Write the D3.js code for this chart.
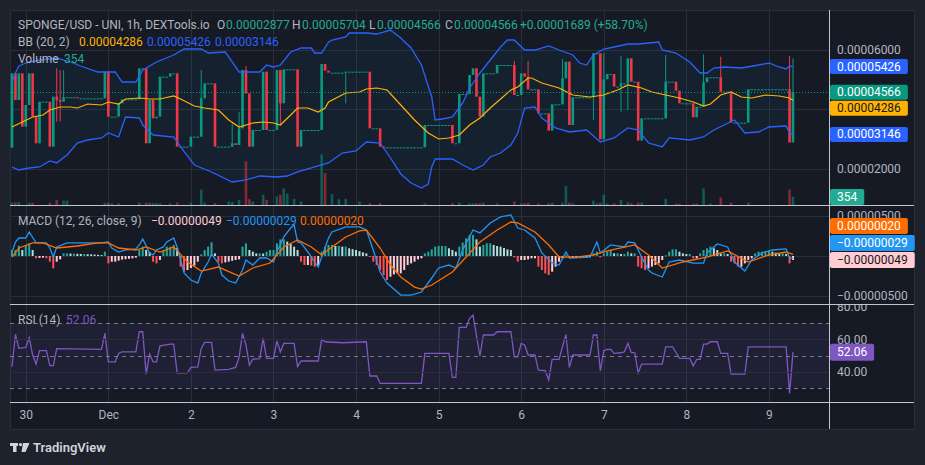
<!DOCTYPE html>
<html>
<head>
<meta charset="utf-8">
<script src="https://cdn.jsdelivr.net/npm/d3@7"></script>
<style>
  body { margin: 0; background: #1e222d; }
  svg { display: block; font-family: Roboto, "Noto Sans", sans-serif; }
</style>
</head>
<body>
<script>
// ---- data, prices in units of 1e-8 USD, one candle per hour ----
var startTime = new Date(2023, 10, 29, 20); // first candle
var firstOpen = 2700;
var closes = [
  5199, 4300, 5199, 3407, 4135, 5199, 3743, 2847, 4247, 4247,
  4247, 2735, 4415, 4303, 4247, 4393, 4393, 4393, 4393, 4359,
  4359, 4359, 4359, 4359, 4359, 4359, 4359, 5255, 3743, 3743,
  3743, 4191, 4325, 4325, 4325, 4325, 4325, 5367, 5367, 2847,
  4303, 3687, 3743, 5087, 5087, 5087, 5199, 5199, 2735, 2735,
  2735, 2735, 3071, 3071, 3071, 4359, 4863, 4863, 4863, 2735,
  2735, 2735, 2735, 2735, 2847, 2791, 3351, 5311, 4527, 2735,
  3295, 3295, 3295, 5255, 3295, 3295, 3295, 5311, 4191, 5333,
  5333, 5333, 5333, 2735, 3295, 3295, 3295, 3295, 3295, 3295,
  5513, 5289, 5221, 5221, 5221, 5221, 5221, 5255, 5255, 5255,
  5255, 5255, 5255, 5255, 3351, 3351, 3351, 2735, 2711, 2711,
  2711, 2711, 2711, 2711, 2711, 2711, 2711, 2711, 2711, 2711,
  3463, 3463, 3463, 3463, 3463, 3463, 3463, 3463, 2847, 2847,
  4505, 4505, 4505, 5143, 5367, 4415, 3743, 5199, 5199, 5199,
  5199, 5479, 5479, 5479, 5479, 5479, 4471, 4471, 5199, 5087,
  4661, 4661, 4661, 3855, 3855, 3855, 3273, 4157, 4157, 4157,
  5031, 5591, 3463, 4393, 4393, 4393, 4393, 4393, 4393, 5871,
  5871, 2981, 4997, 5177, 5177, 4751, 4751, 4863, 4863, 5703,
  4919, 4919, 2937, 3687, 3687, 3687, 3687, 3687, 3687, 3687,
  4919, 4919, 4919, 4617, 4191, 4191, 4191, 4191, 3721, 4079,
  4079, 4897, 5065, 5065, 5065, 5065, 4583, 4583, 4583, 3541,
  3541, 3541, 3541, 3541, 4661, 4661, 4661, 4661, 4661, 4661,
  4661, 4661, 4661, 4661, 4661, 4661, 2877, 4566
];
// [hour, high, low] for candles with visible wicks
var wicks = [
  [13, 5367, 3575], [14, 5311, 3575], [15, 5311, 4247], [55, 5311, 3071],
  [64, 3520, 2735], [66, 3900, 2791], [68, 5445, 4527], [78, 5311, 3463],
  [97, 5255, 4191], [146, 5613, 4471], [150, 5613, 4661], [160, 5681, 4157],
  [169, 5871, 3631], [172, 5871, 2981], [177, 5781, 3911], [179, 5703, 3967],
  [190, 5815, 3687], [201, 5837, 4079], [206, 5759, 4583], [226, 5781, 2877],
  [227, 5704, 2877]
];
// [hour, volume]
var volumes = [
  [0, 100], [1, 120], [2, 130], [5, 100], [6, 100], [11, 100], [13, 220], [15, 190],
  [16, 190], [27, 100], [28, 100], [29, 70], [31, 70], [37, 100], [39, 100], [40, 100],
  [41, 80], [42, 80], [43, 70], [46, 70], [48, 100], [52, 100], [55, 660], [56, 100],
  [59, 80], [63, 150], [64, 130], [66, 220], [68, 1870], [69, 250], [70, 150], [73, 440],
  [74, 220], [77, 370], [78, 440], [79, 710], [80, 490], [82, 265], [84, 150], [90, 2170],
  [91, 1370], [93, 470], [95, 250], [97, 265], [101, 150], [104, 80], [107, 80], [120, 70],
  [128, 70], [130, 100], [133, 70], [134, 70], [135, 70], [136, 70], [137, 100], [141, 70],
  [146, 150], [148, 70], [149, 70], [150, 100], [153, 70], [156, 70], [157, 100], [160, 100],
  [161, 810], [162, 100], [163, 70], [169, 190], [170, 70], [171, 100], [172, 440], [173, 70],
  [175, 70], [177, 220], [179, 120], [180, 70], [182, 100], [183, 100], [190, 265], [193, 50],
  [194, 50], [198, 50], [199, 70], [201, 710], [203, 70], [206, 325], [209, 100], [214, 100],
  [226, 660], [227, 354]
];

// Bollinger Bands (20, 2): [hour, price]
var bbUpper = [
  [0, 4908], [1, 5210], [2, 5445], [4, 5546], [8, 5647], [13, 5714], [17, 5580], [20, 5445],
  [25, 5244], [30, 5244], [32, 4908], [36, 4908], [38, 5311], [42, 5580], [47, 5815], [50, 6017],
  [55, 6017], [57, 5882], [62, 5916], [66, 5244], [72, 5244], [74, 5479], [76, 5412], [78, 5479],
  [81, 5916], [84, 6050], [87, 6050], [88, 5882], [90, 5882], [92, 6252], [93, 6319], [97, 6420],
  [98, 6555], [103, 6555], [106, 6521], [110, 6655], [113, 6387], [116, 6050], [119, 5479],
  [122, 4404], [123, 3630], [125, 3664], [128, 3731], [131, 4202], [133, 4706], [136, 5210],
  [139, 5647], [142, 6084], [144, 6319], [146, 6319], [149, 5983], [152, 5983], [156, 6118],
  [159, 5983], [163, 5815], [165, 5546], [167, 5479], [169, 5815], [172, 6017], [175, 6084],
  [179, 6185], [182, 6185], [188, 6252], [189, 5983], [193, 5882], [197, 5580], [200, 5210],
  [202, 5210], [204, 5378], [207, 5412], [212, 5378], [217, 5479], [220, 5546], [223, 5412],
  [225, 5345], [226, 5445], [227, 5426]
];
var bbBasis = [
  [0, 3395], [3, 3563], [6, 3731], [9, 3798], [11, 3967], [14, 4067], [17, 4067], [19, 4034],
  [22, 4168], [26, 4135], [28, 4235], [31, 4168], [33, 4336], [37, 4370], [40, 4336], [43, 4336],
  [47, 4437], [49, 4336], [53, 4101], [56, 4034], [60, 3967], [63, 3630], [66, 3395], [70, 3530],
  [73, 3563], [76, 3530], [78, 3462], [81, 3798], [83, 4034], [86, 4034], [89, 3899], [91, 4034],
  [92, 4235], [97, 4538], [101, 4572], [103, 4672], [106, 4706], [109, 4639], [113, 4135],
  [117, 3630], [121, 3194], [124, 2992], [127, 3026], [130, 3126], [133, 3462], [136, 3698],
  [139, 4034], [142, 4336], [145, 4639], [147, 4740], [150, 5042], [151, 5042], [154, 4874],
  [159, 4706], [163, 4471], [168, 4404], [172, 4471], [176, 4639], [179, 4807], [183, 4706],
  [186, 4572], [190, 4471], [194, 4370], [198, 4235], [201, 4101], [203, 4168], [206, 4471],
  [209, 4572], [212, 4404], [215, 4370], [219, 4471], [223, 4437], [226, 4370], [227, 4286]
];
var bbLower = [
  [0, 2051], [2, 1950], [5, 2017], [8, 2051], [11, 2253], [13, 2185], [16, 2454], [19, 2857],
  [22, 2958], [26, 3026], [28, 3194], [31, 3059], [33, 3731], [37, 3698], [38, 3462], [41, 3126],
  [47, 3059], [49, 2723], [53, 2118], [58, 1883], [64, 1547], [68, 1614], [72, 1748], [77, 1715],
  [80, 1748], [83, 1883], [88, 2051], [92, 2185], [96, 2521], [100, 2589], [103, 2891], [107, 2857],
  [110, 2353], [113, 1816], [116, 1513], [119, 1345], [121, 1480], [122, 2051], [123, 2320],
  [128, 2320], [131, 2118], [134, 1950], [137, 2118], [139, 2387], [142, 2521], [145, 2790],
  [147, 3194], [149, 4034], [152, 4067], [154, 3698], [158, 3362], [162, 3227], [167, 3294],
  [171, 2891], [175, 3026], [179, 3362], [182, 3294], [185, 2857], [189, 2723], [191, 3026],
  [197, 2958], [201, 3059], [204, 3294], [207, 3462], [210, 3630], [213, 3194], [217, 3227],
  [220, 3395], [225, 3429], [226, 3194], [227, 3146]
];

// MACD (12, 26, close, 9), units of 1e-8: [hour, value]
var macdLine = [
  [0, 50], [1, 175], [2, 225], [4, 225], [5, 300], [7, 163], [10, 163], [11, 100], [12, -13],
  [13, 113], [16, 163], [26, 163], [28, 175], [29, 100], [31, 50], [33, 75], [36, 88], [37, 138],
  [38, 213], [40, 38], [41, 13], [42, 75], [44, 113], [45, 175], [47, 225], [48, 113], [49, -50],
  [50, -213], [52, -300], [54, -338], [55, -213], [57, -75], [58, 25], [60, -88], [61, -238],
  [63, -313], [65, -338], [67, -175], [68, -50], [70, -113], [72, -25], [74, -25], [76, -75],
  [77, 50], [79, 238], [81, 350], [82, 388], [83, 175], [84, 163], [86, 50], [88, -75], [89, -138],
  [90, -13], [92, 225], [93, 300], [97, 363], [101, 363], [103, 325], [105, 75], [107, -200],
  [109, -338], [113, -488], [116, -488], [119, -450], [122, -275], [124, -150], [127, -113],
  [129, -150], [131, 75], [134, 325], [136, 288], [139, 413], [142, 488], [145, 513], [147, 350],
  [149, 325], [152, 225], [154, 38], [157, -88], [159, -113], [161, 50], [162, -25], [168, -13],
  [170, 175], [171, 38], [174, 138], [178, 113], [179, 175], [181, 163], [183, -13], [185, -175],
  [186, -213], [189, -263], [191, -75], [194, -50], [198, -88], [201, -88], [202, 38], [205, 150],
  [208, 113], [210, -75], [213, -188], [215, -50], [218, 38], [221, 75], [225, 88], [226, -25],
  [227, -29]
];
var signalLine = [
  [0, -13], [2, 100], [6, 163], [9, 163], [13, 100], [19, 125], [25, 163], [28, 163], [31, 100],
  [36, 75], [39, 113], [43, 50], [47, 113], [51, -75], [55, -188], [60, -138], [66, -250],
  [70, -150], [75, -88], [79, 113], [83, 200], [87, 113], [90, 13], [93, 113], [97, 238],
  [101, 313], [103, 325], [107, 100], [110, -113], [113, -263], [117, -388], [119, -413],
  [122, -363], [128, -200], [132, -13], [136, 175], [141, 325], [145, 425], [147, 413], [152, 300],
  [156, 138], [159, -13], [164, -13], [169, 13], [173, 63], [181, 138], [185, 13], [189, -150],
  [195, -75], [202, -13], [208, 63], [214, -75], [220, 13], [225, 50], [227, 20]
];
var macdHist = [
   75,  75, 129,  75, 138, 158,  75, -29, -25, -20,
  -29, -71,-154, -71, -42,  33,  33,  30,  30,  28,
   25,  25,  22,  20,  18,  15,  12,  54, -92, -71,
  -71, -58, -45, -40, -35, -29, -20,  75, 117,  75,
   50, -71, -92, -50,  75, 117, 117, 138, 100,-133,
 -196,-175,-150,-120, -71,  20,  75, 117, 171,  33,
  -71, -92, -80, -71, -60, -50, -42, 117, 158,  75,
   54,  33,  33,  30,  54,  75,  75, 158, 208, 208,
  180, 150, 117,  75, -71,-113,-113,-120,-133,-120,
   54, 117, 138, 138, 125, 125, 117, 117,  96,  85,
   75,  60,  45,  33,  -8, -71,-113,-175,-238,-300,
 -259,-230,-217,-217,-175,-113, -92, -71, -42, -29,
   33,  54,  83, 117, 125, 125, 125,  96,  75,  54,
  117, 167, 221, 263, 263, 208, 117, 138, 158, 158,
  138, 125, 117, 100,  83,  75, -17, -71, -50, -50,
  -42, -29, -29,-133,-175,-217,-238,-196,-133, -71,
  -29,   8, -12,  -8,  -8,  -8,  -8,  -8,  -8,  33,
   54, -17,  33,  54,  75,  33,  33,  25,  25,  54,
   33,  33,-133,-154,-175,-154,-133,-113, -92, -50,
    8,  54,  83,  83,  54,  33,  25,  25, -29, -29,
   33,  75,  96, 117,  96,  75,  33,  33,  25, -71,
  -92,-133,-133, -92, -50, -29,  33,  54,  54,  62,
   67,  54,  42,  33,  33,  25, -92, -49
];

// RSI (14): [hour, value]
var rsiLine = [
  [0, 43], [1, 63], [2, 54.4], [4, 55], [5, 61], [6, 50.3], [7, 44.7], [8, 53], [10, 53],
  [11, 43.7], [12, 43.7], [13, 54.2], [26, 53.8], [27, 63.7], [28, 46.1], [30, 46.1], [31, 51.3],
  [32, 52.3], [36, 52.3], [37, 64.7], [38, 64.7], [39, 38.5], [40, 50.9], [41, 46.1], [42, 46.1],
  [43, 56], [46, 57], [47, 57], [48, 39.3], [51, 39.3], [52, 42.6], [54, 43], [55, 54.4],
  [56, 58.1], [58, 58.1], [59, 41], [63, 41.4], [65, 42.6], [66, 48.8], [67, 63.7], [68, 56.5],
  [69, 44.1], [70, 47.8], [72, 48], [73, 60.6], [74, 48.2], [76, 48.2], [77, 59], [78, 52.3],
  [79, 57.5], [82, 57.5], [83, 43.1], [84, 46.6], [89, 46.6], [90, 60], [91, 58.5], [96, 57.9],
  [103, 58.5], [104, 37.3], [106, 37.3], [107, 32.7], [119, 32.7], [120, 51.3], [127, 51.3],
  [128, 36.4], [129, 36.4], [130, 67.4], [132, 67.4], [133, 73], [134, 75], [136, 49.7],
  [137, 62.7], [140, 62.7], [141, 64.7], [145, 64.7], [146, 49.2], [147, 49.2], [148, 57.5],
  [149, 56.5], [150, 50.3], [152, 50.3], [153, 41], [155, 40.6], [156, 34.8], [157, 47.6],
  [159, 47.6], [160, 55.4], [161, 63], [162, 42.6], [163, 50.3], [168, 50.3], [169, 62.7],
  [170, 62.7], [171, 40.4], [172, 53], [173, 53.8], [174, 53.8], [175, 51.3], [177, 51.7],
  [178, 52.3], [179, 57.5], [180, 51.9], [181, 51.7], [182, 39.3], [183, 44.7], [189, 44.7],
  [190, 55.4], [192, 55.4], [194, 48.2], [197, 48.2], [198, 43.5], [199, 47.6], [200, 47.6],
  [201, 57.1], [202, 57.1], [203, 58.5], [205, 58.5], [206, 51.3], [208, 51.3], [209, 38.5],
  [213, 38.5], [214, 55.4], [225, 55.4], [226, 26.5], [227, 52.06]
];

// axis ticks
var priceTicks = [6000, 2000];
var priceGrid = [6000, 4000, 2000];
var macdTicks = [500, -500];
var macdGrid = [500, 0, -500];
var rsiTicks = [80, 60, 40];
var rsiGrid = [60, 40];
var rsiBands = [70, 50, 30];

// last bar values shown in legends and price labels
var lastOHLC = [2877, 5704, 4566, 4566];
var lastChange = [1689, 58.70];
var lastVolume = 354;
var lastBB = [4286, 5426, 3146];
var lastMacd = [-49, -29, 20];
var lastRsi = 52.06;

// ---- layout ----
var W = 925, H = 465;
var frameL = 10, frameR = 914, frameT = 10, frameB = 429, axisX = 829;
var mainBottom = 205, macdBottom = 304, rsiBottom = 402;
var gridColor = "#2a2e39", sepColor = "#c3c6ce", textColor = "#b2b5be";
var upColor = "#089981", downColor = "#f23645";

var svg = d3.select("body").append("svg")
    .attr("width", W)
    .attr("height", H);

svg.append("rect").attr("width", W).attr("height", H).attr("fill", "#1e222d");
svg.append("rect")
    .attr("x", frameL + 0.5).attr("y", frameT + 0.5)
    .attr("width", frameR - frameL).attr("height", frameB - frameT)
    .attr("fill", "#161a25")
    .attr("stroke", "#2a2e39");

// scales
var hourMs = 3600e3;
function hourDate(i) { return new Date(+startTime + i * hourMs); }
var x = d3.scaleTime().domain([startTime, hourDate(closes.length - 1)]).range([12, 793]);
function xi(i) { return x(hourDate(i)); }
var yPrice = d3.scaleLinear().domain([2000, 6000]).range([168.5, 49.5]);
var yVol = d3.scaleLinear().domain([0, 2400]).range([mainBottom, mainBottom - 56]);
var yMacd = d3.scaleLinear().domain([-500, 500]).range([296, 216]);
var yRsi = d3.scaleLinear().domain([30, 70]).range([387.8, 323.2]);

function fmt8(v) { return (v < 0 ? "\u2212" : "") + Math.abs(v * 1e-8).toFixed(8); }

// clip paths
var defs = svg.append("defs");
function clip(id, y0, y1, x0, x1) {
  defs.append("clipPath").attr("id", id).append("rect")
      .attr("x", x0).attr("y", y0).attr("width", x1 - x0).attr("height", y1 - y0);
  return "url(#" + id + ")";
}
var clipMain = clip("cMain", frameT, mainBottom, frameL, axisX);
var clipMacd = clip("cMacd", mainBottom, macdBottom, frameL, axisX);
var clipRsi = clip("cRsi", macdBottom, rsiBottom, frameL, axisX);
var clipRsiAxis = clip("cRsiAx", macdBottom + 1, rsiBottom, axisX, frameR);

// grid: vertical day lines
var days = d3.timeDay.range(d3.timeDay.ceil(startTime), hourDate(closes.length));
svg.append("g").selectAll("line").data(days).enter().append("line")
    .attr("x1", function(d) { return Math.round(x(d)) + 0.5; })
    .attr("x2", function(d) { return Math.round(x(d)) + 0.5; })
    .attr("y1", frameT).attr("y2", rsiBottom)
    .attr("stroke", gridColor);

// grid: horizontal
function hGrid(vals, scale, dash) {
  svg.append("g").selectAll("line").data(vals).enter().append("line")
      .attr("x1", frameL).attr("x2", axisX)
      .attr("y1", function(d) { return Math.round(scale(d)) + 0.5; })
      .attr("y2", function(d) { return Math.round(scale(d)) + 0.5; })
      .attr("stroke", dash ? "#787b86" : gridColor)
      .attr("stroke-dasharray", dash ? "4 4" : null);
}
hGrid(priceGrid, yPrice);
hGrid(macdGrid, yMacd);

// ---------- main pane ----------
var mainG = svg.append("g").attr("clip-path", clipMain);

// bollinger background
var bandPoly = bbUpper.map(function(d) { return [xi(d[0]), yPrice(d[1])]; })
    .concat(bbLower.slice().reverse().map(function(d) { return [xi(d[0]), yPrice(d[1])]; }));
mainG.append("path")
    .attr("d", "M" + bandPoly.join("L") + "Z")
    .attr("fill", "rgba(33,150,243,0.06)");

// candles
var candles = closes.map(function(c, i) {
  var o = i === 0 ? firstOpen : closes[i - 1];
  return {i: i, o: o, c: c, h: Math.max(o, c), l: Math.min(o, c)};
});
wicks.forEach(function(w) { candles[w[0]].h = w[1]; candles[w[0]].l = w[2]; });
function candleColor(d) { return d.c >= d.o ? upColor : downColor; }

// volume
mainG.append("g").selectAll("rect").data(volumes).enter().append("rect")
    .attr("x", function(d) { return xi(d[0]) - 1.3; })
    .attr("width", 2.6)
    .attr("y", function(d) { return yVol(d[1]); })
    .attr("height", function(d) { return mainBottom - yVol(d[1]); })
    .attr("fill", function(d) { return candleColor(candles[d[0]]); })
    .attr("opacity", 0.5);

mainG.append("g").selectAll("line").data(candles.filter(function(d) { return d.h > Math.max(d.o, d.c) || d.l < Math.min(d.o, d.c); }))
  .enter().append("line")
    .attr("x1", function(d) { return xi(d.i); })
    .attr("x2", function(d) { return xi(d.i); })
    .attr("y1", function(d) { return yPrice(d.h); })
    .attr("y2", function(d) { return yPrice(d.l); })
    .attr("stroke", candleColor)
    .attr("stroke-width", 1);

mainG.append("g").selectAll("rect").data(candles).enter().append("rect")
    .attr("x", function(d) { return xi(d.i) - 1.3; })
    .attr("width", 2.6)
    .attr("y", function(d) { return yPrice(Math.max(d.o, d.c)); })
    .attr("height", function(d) { return Math.max(1, Math.abs(yPrice(d.o) - yPrice(d.c))); })
    .attr("fill", candleColor);

// bollinger lines
var priceLine = d3.line()
    .x(function(d) { return xi(d[0]); })
    .y(function(d) { return yPrice(d[1]); });
mainG.append("path").attr("d", priceLine(bbUpper)).attr("fill", "none").attr("stroke", "#2962ff").attr("stroke-width", 1.3);
mainG.append("path").attr("d", priceLine(bbLower)).attr("fill", "none").attr("stroke", "#2962ff").attr("stroke-width", 1.3);
mainG.append("path").attr("d", priceLine(bbBasis)).attr("fill", "none").attr("stroke", "#ffb300").attr("stroke-width", 1.2);

// last price dotted line
mainG.append("line")
    .attr("x1", frameL).attr("x2", axisX)
    .attr("y1", Math.round(yPrice(lastOHLC[3])) + 0.5)
    .attr("y2", Math.round(yPrice(lastOHLC[3])) + 0.5)
    .attr("stroke", upColor)
    .attr("stroke-dasharray", "1 2");

// ---------- MACD pane ----------
var macdG = svg.append("g").attr("clip-path", clipMacd);
macdG.append("g").selectAll("rect").data(macdHist).enter().append("rect")
    .attr("x", function(d, i) { return xi(i) - 1; })
    .attr("width", 2)
    .attr("y", function(d) { return Math.min(yMacd(0), yMacd(d)); })
    .attr("height", function(d) { return Math.max(1, Math.abs(yMacd(d) - yMacd(0))); })
    .attr("fill", function(d, i) {
      var prev = i > 0 ? macdHist[i - 1] : d;
      if (d >= 0) return d >= prev ? "#26a69a" : "#b2dfdb";
      return d < prev ? "#ff5252" : "#ffcdd2";
    });
var macdPath = d3.line()
    .x(function(d) { return xi(d[0]); })
    .y(function(d) { return yMacd(d[1]); });
macdG.append("path").attr("d", macdPath(macdLine)).attr("fill", "none").attr("stroke", "#2196f3").attr("stroke-width", 1.3);
macdG.append("path").attr("d", macdPath(signalLine)).attr("fill", "none").attr("stroke", "#ff6d00").attr("stroke-width", 1.3);

// ---------- RSI pane ----------
var rsiG = svg.append("g").attr("clip-path", clipRsi);
rsiG.append("rect")
    .attr("x", frameL).attr("width", axisX - frameL)
    .attr("y", yRsi(70)).attr("height", yRsi(30) - yRsi(70))
    .attr("fill", "rgba(126,87,194,0.1)");
hGrid(rsiGrid, yRsi);
hGrid(rsiBands, yRsi, true);
var rsiPath = d3.line()
    .x(function(d) { return xi(d[0]); })
    .y(function(d) { return yRsi(d[1]); });
rsiG.append("path").attr("d", rsiPath(rsiLine)).attr("fill", "none").attr("stroke", "#7e57c2").attr("stroke-width", 1.3);

// ---------- axes ----------
function styleAxis(g) {
  g.select(".domain").remove();
  g.selectAll("text").attr("fill", textColor).style("font-size", "12px").style("font-family", "Roboto, 'Noto Sans', sans-serif");
}
svg.append("g")
    .attr("transform", "translate(" + axisX + ",0)")
    .call(d3.axisRight(yPrice).tickValues(priceTicks).tickFormat(fmt8).tickSize(0).tickPadding(8))
    .call(styleAxis);
svg.append("g")
    .attr("transform", "translate(" + axisX + ",0)")
    .call(d3.axisRight(yMacd).tickValues(macdTicks).tickFormat(fmt8).tickSize(0).tickPadding(8))
    .call(styleAxis);
svg.append("g")
    .attr("clip-path", clipRsiAxis)
    .append("g")
    .attr("transform", "translate(" + axisX + ",0)")
    .call(d3.axisRight(yRsi).tickValues(rsiTicks).tickFormat(function(d) { return d.toFixed(2); }).tickSize(0).tickPadding(8))
    .call(styleAxis);
svg.append("g")
    .attr("transform", "translate(0," + rsiBottom + ")")
    .call(d3.axisBottom(x).tickValues(days)
      .tickFormat(function(d) { return d.getDate() === 1 ? d3.timeFormat("%b")(d) : d.getDate(); })
      .tickSize(0).tickPadding(8))
    .call(styleAxis);

// separators
[mainBottom, macdBottom, rsiBottom].forEach(function(yy) {
  svg.append("line").attr("x1", frameL).attr("x2", frameR).attr("y1", yy + 0.5).attr("y2", yy + 0.5)
      .attr("stroke", sepColor);
});
svg.append("line").attr("x1", axisX + 0.5).attr("x2", axisX + 0.5).attr("y1", frameT).attr("y2", frameB)
    .attr("stroke", sepColor);

// ---------- price labels on the axis ----------
function axisLabels(items, dir) {
  var h = items.h;
  var list = items.list.map(function(d) { return Object.assign({cy: d.y}, d); });
  list.sort(function(a, b) { return dir > 0 ? a.cy - b.cy : b.cy - a.cy; });
  for (var k = 1; k < list.length; k++) {
    if (dir > 0 && list[k].cy < list[k - 1].cy + h) list[k].cy = list[k - 1].cy + h;
    if (dir < 0 && list[k].cy > list[k - 1].cy - h) list[k].cy = list[k - 1].cy - h;
  }
  list.forEach(function(d) {
    var g = svg.append("g");
    var r = g.append("rect").attr("x", axisX + 1).attr("y", d.cy - h / 2 + 0.5).attr("height", h - 1)
        .attr("rx", 2).attr("fill", d.bg);
    var t = g.append("text").attr("x", axisX + 8).attr("y", d.cy)
        .attr("dominant-baseline", "central")
        .attr("fill", d.fg).style("font-size", "12px").text(d.text);
    r.attr("width", t.node().getComputedTextLength() + 14);
  });
}
axisLabels({h: 16, list: [
  {y: yPrice(lastBB[1]), bg: "#2962ff", fg: "#ffffff", text: fmt8(lastBB[1])},
  {y: yPrice(lastOHLC[3]), bg: upColor, fg: "#ffffff", text: fmt8(lastOHLC[3])},
  {y: yPrice(lastBB[0]), bg: "#ffb300", fg: "#131722", text: fmt8(lastBB[0])},
  {y: yPrice(lastBB[2]), bg: "#2962ff", fg: "#ffffff", text: fmt8(lastBB[2])}
]}, 1);
axisLabels({h: 17, list: [
  {y: yMacd(lastMacd[0]), bg: "#ffcdd2", fg: "#131722", text: fmt8(lastMacd[0])},
  {y: yMacd(lastMacd[1]), bg: "#2196f3", fg: "#ffffff", text: fmt8(lastMacd[1])},
  {y: yMacd(lastMacd[2]), bg: "#ff6d00", fg: "#ffffff", text: fmt8(lastMacd[2])}
]}, -1);
axisLabels({h: 17, list: [
  {y: mainBottom - 8, bg: "#22ab94", fg: "#ffffff", text: String(lastVolume)}
]}, 1);
axisLabels({h: 18, list: [
  {y: yRsi(lastRsi), bg: "#7e57c2", fg: "#ffffff", text: lastRsi.toFixed(2)}
]}, 1);

// ---------- legends ----------
function legend(yy, parts) {
  var t = svg.append("text").attr("y", yy).attr("dominant-baseline", "central").style("font-size", "12px");
  parts.forEach(function(p) {
    t.append("tspan").attr("x", p[0]).attr("fill", p[2]).text(p[1]);
  });
}
var teal = "#22ab94";
legend(25, [
  [18, "SPONGE/USD - UNI, 1h, DEXTools.io", textColor],
  [217, "O", textColor], [226, fmt8(lastOHLC[0]), teal],
  [292, "H", textColor], [302, fmt8(lastOHLC[1]), teal],
  [369, "L", textColor], [377, fmt8(lastOHLC[2]), teal],
  [445, "C", textColor], [454, fmt8(lastOHLC[3]), teal],
  [520, "+" + fmt8(lastChange[0]) + " (+" + lastChange[1].toFixed(2) + "%)", teal]
]);
legend(42, [
  [18, "BB (20, 2)", textColor],
  [79, fmt8(lastBB[0]), "#ffb300"],
  [147, fmt8(lastBB[1]), "#2962ff"],
  [215, fmt8(lastBB[2]), "#2962ff"]
]);
legend(59, [[18, "Volume", textColor], [64, String(lastVolume), teal]]);
legend(221, [
  [18, "MACD (12, 26, close, 9)", textColor],
  [151, fmt8(lastMacd[0]), "#ffcdd2"],
  [226, fmt8(lastMacd[1]), "#2196f3"],
  [300, fmt8(lastMacd[2]), "#ff6d00"]
]);
legend(320, [[18, "RSI (14)", textColor], [66, lastRsi.toFixed(2), "#7e57c2"]]);

// ---------- TradingView mark ----------
var logo = svg.append("g").attr("fill", "#d1d4dc");
logo.append("path").attr("d", "M10,443H18V446H16.5V452H13V446H10Z");
logo.append("circle").attr("cx", 20.5).attr("cy", 444.6).attr("r", 1.6);
logo.append("path").attr("d", "M23,443H29.5L25.5,452H21.5Z");
svg.append("text").attr("x", 33).attr("y", 447).attr("dominant-baseline", "central")
    .attr("fill", "#d1d4dc").style("font-size", "13px").style("font-weight", "600")
    .text("TradingView");
</script>
</body>
</html>
